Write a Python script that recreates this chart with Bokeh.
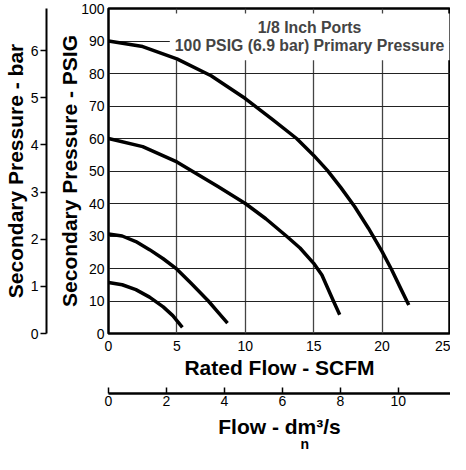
from bokeh.plotting import figure
from bokeh.models import Range1d, LinearAxis, FixedTicker, Label
from bokeh.embed import file_html
from bokeh.resources import INLINE

# ---- data ----
flow_p90 = [0, 2.5, 5, 7.5, 10, 12, 13.75, 15, 16, 17, 18, 19, 20, 20.7, 21.4, 21.95]
psig_p90 = [90, 88.3, 84.5, 79.3, 72.3, 65.8, 60, 54.8, 50.2, 44.8, 39, 32.4, 25.2, 19.6, 13.5, 8.8]

flow_p60 = [0, 2.5, 5, 6.1, 8, 10, 11.5, 13, 14, 15, 15.6, 16.4, 16.9]
psig_p60 = [60, 57.5, 52.8, 50, 45.2, 40, 35.3, 30, 26.3, 21.6, 18.0, 10.4, 5.8]

flow_p30 = [0, 1, 2, 3, 4, 5, 6, 7.3, 8, 8.7]
psig_p30 = [30.6, 30.0, 28.3, 25.8, 23.0, 19.8, 15.6, 10, 6.6, 3.2]

flow_p16 = [0, 1, 2, 3, 4, 4.7, 5.4]
psig_p16 = [15.7, 15.0, 13.5, 11.2, 8.2, 5.5, 1.9]

psig_ticks = [0, 10, 20, 30, 40, 50, 60, 70, 80, 90, 100]
bar_ticks = [0, 1, 2, 3, 4, 5, 6]
scfm_ticks = [0, 5, 10, 15, 20, 25]
dm_ticks = [0, 2, 4, 6, 8, 10]

PSI_PER_BAR = 14.5038
DM3S_PER_SCFM = 0.47195
X_MAX = 25
Y_MAX = 100

FONT = "Liberation Sans"

p = figure(width=450, height=454,
           x_range=Range1d(0, X_MAX), y_range=Range1d(0, Y_MAX),
           output_backend="svg", toolbar_location=None,
           min_border_top=8, min_border_right=0, min_border_left=0, min_border_bottom=0,
           outline_line_color="black", outline_line_width=2.5)
p.background_fill_color = "white"
p.border_fill_color = "white"

p.extra_y_ranges = {"bar": Range1d(0, Y_MAX / PSI_PER_BAR)}
p.extra_x_ranges = {"dm": Range1d(0, X_MAX * DM3S_PER_SCFM)}

# grids
p.xgrid.ticker = FixedTicker(ticks=scfm_ticks)
p.ygrid.ticker = FixedTicker(ticks=psig_ticks)
p.xgrid.grid_line_color = "#444444"
p.ygrid.grid_line_color = "#222222"
p.xgrid.grid_line_width = 1.3
p.ygrid.grid_line_width = 1.2


def style_axis(ax):
    ax.axis_label_text_font = FONT
    ax.axis_label_text_font_style = "bold"
    ax.axis_label_text_font_size = "21px"
    ax.axis_label_text_color = "black"
    ax.major_label_text_font = FONT
    ax.major_label_text_font_size = "14px"
    ax.major_label_text_color = "black"
    ax.minor_tick_line_color = None


def spacer(size, text="\u00a0", standoff=0):
    return LinearAxis(ticker=FixedTicker(ticks=[]), axis_line_color=None,
                      major_tick_line_color=None, minor_tick_line_color=None,
                      major_tick_out=0, major_tick_in=0, major_label_standoff=0,
                      major_label_text_font_size="1px", axis_label=text,
                      axis_label_text_font=FONT, axis_label_text_font_style="bold",
                      axis_label_text_color="black",
                      axis_label_text_font_size=size, axis_label_standoff=standoff)


# primary y axis (PSIG)
ya = p.yaxis[0]
style_axis(ya)
ya.ticker = FixedTicker(ticks=psig_ticks)
ya.axis_line_color = None
ya.major_tick_line_color = None
ya.major_tick_out = 0
ya.major_tick_in = 0
ya.major_label_standoff = 4
ya.axis_label = "Secondary Pressure - PSIG"
ya.axis_label_standoff = -3

# spacer between PSIG and bar axes
p.add_layout(spacer("5px"), "left")

# secondary y axis (bar)
ba = LinearAxis(y_range_name="bar", ticker=FixedTicker(ticks=bar_ticks))
style_axis(ba)
ba.axis_line_width = 2
ba.axis_line_color = "black"
ba.major_tick_line_color = "black"
ba.major_tick_line_width = 1.5
ba.major_tick_out = 6
ba.major_tick_in = 0
ba.major_label_standoff = 2
ba.axis_label = "Secondary Pressure - bar"
ba.axis_label_standoff = 1
p.add_layout(ba, "left")

# primary x axis (SCFM)
xa = p.xaxis[0]
style_axis(xa)
xa.ticker = FixedTicker(ticks=scfm_ticks)
xa.axis_line_color = None
xa.major_tick_line_color = None
xa.major_tick_out = 0
xa.major_tick_in = 0
xa.major_label_standoff = 7
xa.axis_label = "Rated Flow - SCFM"
xa.axis_label_standoff = 2

# spacer between SCFM and dm3/s axes
p.add_layout(spacer("8px"), "below")

# secondary x axis (dm3/s)
da = LinearAxis(x_range_name="dm", ticker=FixedTicker(ticks=dm_ticks))
style_axis(da)
da.axis_line_width = 2.5
da.axis_line_color = "black"
da.major_tick_line_color = "black"
da.major_tick_line_width = 1.5
da.major_tick_in = 6
da.major_tick_out = 0
da.major_label_standoff = 2
da.axis_label = "Flow - dm\u00b3/s"
da.axis_label_standoff = 6
p.add_layout(da, "below")

# subscript n of dm_n (nbsp padding shifts it under the "m")
n_axis = spacer("14px", text="\u00a0" * 13 + "n", standoff=-5)
n_axis.minor_tick_out = 0
n_axis.minor_tick_in = 0
n_axis.major_label_text_font_size = "0px"
p.add_layout(n_axis, "below")

# title box (covers grid; curves drawn above it)
title = Label(x=14.7, y=98.5, x_units="data", y_units="data",
              text="1/8 Inch Ports\n100 PSIG (6.9 bar) Primary Pressure",
              text_font=FONT, text_font_style="bold", text_font_size="15.8px",
              text_align="center", text_baseline="top", text_line_height=1.05,
              background_fill_color="white", padding=(5, 6))
p.add_layout(title)

# curves
for fx, py in [(flow_p90, psig_p90), (flow_p60, psig_p60),
               (flow_p30, psig_p30), (flow_p16, psig_p16)]:
    p.line(fx, py, line_color="black", line_width=3.5, line_cap="butt",
           line_join="round", level="overlay")

open("out.html", "w").write(file_html(p, INLINE))
